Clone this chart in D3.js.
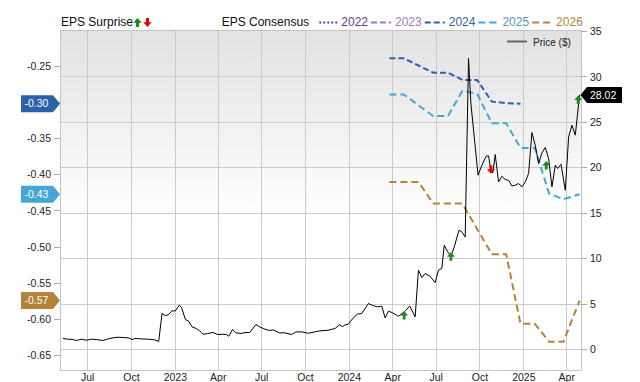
<!DOCTYPE html>
<html><head><meta charset="utf-8">
<script src="https://cdn.jsdelivr.net/npm/d3@7"></script>
<style>
body{margin:0;background:#fff}
svg{display:block;font-family:"Liberation Sans",Arial,Helvetica,sans-serif}
</style>
</head><body>
<svg id="c" width="640" height="382"></svg>
<script>
// ---------------- data ----------------
const xDomain = ["2022-05-05", "2025-05-02"];
const priceDates = ["2022-05-10","2022-05-21","2022-05-31","2022-06-07","2022-06-18","2022-06-28","2022-07-09","2022-07-19","2022-08-02","2022-08-13","2022-08-23","2022-09-03","2022-09-13","2022-09-25","2022-10-02","2022-10-08","2022-10-22","2022-11-05","2022-11-19","2022-11-27","2022-12-04","2022-12-11","2022-12-17","2022-12-25",
"2023-01-01","2023-01-09","2023-01-14","2023-01-22","2023-01-29","2023-02-05","2023-02-14","2023-02-21","2023-02-28","2023-03-10","2023-03-21","2023-03-31","2023-04-11","2023-04-18","2023-04-23","2023-05-01","2023-05-08","2023-05-20","2023-05-27","2023-06-06","2023-06-19","2023-06-27","2023-07-08","2023-07-18","2023-07-25","2023-08-07","2023-08-19","2023-09-02","2023-09-11","2023-09-23","2023-10-07","2023-10-21","2023-10-31","2023-11-17","2023-12-02","2023-12-11","2023-12-18","2023-12-23","2023-12-30",
"2024-01-08","2024-01-18","2024-01-27","2024-02-10","2024-02-19","2024-02-29","2024-03-09","2024-03-16","2024-03-23","2024-04-01","2024-04-13","2024-04-25","2024-05-07","2024-05-18","2024-05-25","2024-06-01","2024-06-08","2024-06-18","2024-06-29","2024-07-06","2024-07-13","2024-07-18","2024-07-24","2024-08-01","2024-08-08","2024-08-18","2024-08-24","2024-08-31","2024-09-07","2024-09-12","2024-09-19","2024-09-27","2024-10-05","2024-10-14","2024-10-19","2024-10-24","2024-10-28","2024-11-02","2024-11-09","2024-11-16","2024-11-23","2024-11-30","2024-12-07","2024-12-14","2024-12-21","2024-12-28",
"2025-01-04","2025-01-11","2025-01-18","2025-01-25","2025-02-01","2025-02-08","2025-02-15","2025-02-22","2025-03-01","2025-03-08","2025-03-13","2025-03-20","2025-03-29","2025-04-05","2025-04-12","2025-04-19","2025-04-28"];
const priceValues = [1.21,1.13,1.10,0.99,1.13,1.02,1.13,1.10,0.99,1.17,1.28,1.35,1.32,1.28,1.10,1.21,1.17,1.13,1.06,0.88,3.96,3.74,3.81,4.25,
4.25,4.88,4.62,3.30,3.11,2.49,2.31,2.05,1.68,1.76,1.87,1.65,1.68,1.65,1.46,2.20,1.83,1.76,1.87,1.87,2.75,2.49,2.23,2.09,2.16,1.83,1.83,1.65,1.94,1.94,1.79,1.94,2.05,2.12,2.31,2.71,2.53,2.71,2.78,
3.41,3.89,3.96,5.06,4.84,4.69,4.77,3.48,4.22,4.03,3.65,4.14,4.77,3.59,8.73,7.92,8.36,8.07,7.37,8.73,8.91,11.48,10.85,10.27,11.29,13.13,12.94,12.39,32.03,27.07,23.40,19.18,20.28,21.27,21.31,19.62,19.44,21.46,18.45,19.07,18.71,18.63,18.00,18.08,18.27,17.90,
18.45,19.37,23.88,22.48,20.47,21.64,22.23,21.02,17.90,20.28,19.92,20.39,17.53,23.40,24.69,23.59,28.02];

const consensusDates = ["2024-03-25","2024-04-24","2024-05-25","2024-06-25","2024-07-26","2024-08-25","2024-09-25","2024-10-26","2024-11-25","2024-12-25","2025-01-24","2025-02-23","2025-03-25","2025-04-28"];
const eps2022 = [];
const eps2023 = [];
const eps2024 = [-0.239,-0.239,-0.249,-0.259,-0.259,-0.269,-0.269,-0.299,-0.301,-0.302];
const eps2025 = [-0.289,-0.289,-0.304,-0.319,-0.319,-0.284,-0.288,-0.329,-0.329,-0.363,-0.363,-0.426,-0.434,-0.427];
const eps2026 = [-0.410,-0.410,-0.410,-0.440,-0.440,-0.440,-0.475,-0.510,-0.510,-0.606,-0.606,-0.631,-0.631,-0.574];

const surpriseDates = ["2024-04-25","2024-08-01","2024-10-24","2025-02-17","2025-04-25"];
const surpriseValues = [3.77,10.24,19.81,20.28,27.5];
const surpriseDirs = ["up","up","down","up","up"];

const consensusYears = ["2022","2023","2024","2025","2026"];
const epsTicks = [-0.65,-0.60,-0.55,-0.50,-0.45,-0.40,-0.35,-0.30,-0.25];
const priceTicks = [0,5,10,15,20,25,30,35];
const lastPriceLabel = "28.02";
const badgeLabels = ["-0.30","-0.43","-0.57"];

// ---------------- styles ----------------
const seriesStyle = {
  "2022": {color:"#62398f", text:"#62398f", dash:"2,2"},
  "2023": {color:"#a07cbb", text:"#a07cbb", dash:"6,3"},
  "2024": {color:"#2a61a9", text:"#2a61a9", dash:"6,3"},
  "2025": {color:"#45a6d6", text:"#5b93c6", dash:"7,4"},
  "2026": {color:"#b3833a", text:"#b3833a", dash:"7,4"}
};
const epsSeries = {"2022":eps2022,"2023":eps2023,"2024":eps2024,"2025":eps2025,"2026":eps2026};

// ---------------- chart ----------------
const P = {l:60.5, r:581.5, t:30.5, b:370.5};
const parse = d3.timeParse("%Y-%m-%d");
const svg = d3.select("#c");
const x = d3.scaleTime().domain(xDomain.map(parse)).range([P.l, P.r]);
const yP = d3.scaleLinear().domain([0,35]).range([349.5,31.5]);
const yE = d3.scaleLinear().domain([-0.65,-0.25]).range([355.5,66.2]);
const crisp = v => Math.round(v - 0.5) + 0.5;

const defs = svg.append("defs");
const g = defs.append("linearGradient").attr("id","bg").attr("x1",0).attr("y1",0).attr("x2",0).attr("y2",1);
g.append("stop").attr("offset","0%").attr("stop-color","#e2e2e2");
g.append("stop").attr("offset","55%").attr("stop-color","#ffffff");
g.append("stop").attr("offset","100%").attr("stop-color","#ffffff");
defs.append("clipPath").attr("id","clip").append("rect")
  .attr("x",P.l).attr("y",P.t).attr("width",P.r-P.l).attr("height",P.b-P.t);

svg.append("rect").attr("x",P.l).attr("y",P.t).attr("width",P.r-P.l).attr("height",P.b-P.t)
  .attr("fill","url(#bg)");

// grid
const xTicks = x.ticks(d3.timeMonth.every(3));
svg.append("g").selectAll("line").data(xTicks).join("line")
  .attr("x1",d=>crisp(x(d))).attr("x2",d=>crisp(x(d))).attr("y1",P.t).attr("y2",P.b)
  .attr("stroke","#cbcbcb").attr("stroke-width",1);
svg.append("g").selectAll("line").data(priceTicks.filter(t=>t<35)).join("line")
  .attr("x1",P.l).attr("x2",P.r).attr("y1",d=>crisp(yP(d))).attr("y2",d=>crisp(yP(d)))
  .attr("stroke","#cbcbcb").attr("stroke-width",1);

svg.append("rect").attr("x",P.l).attr("y",P.t).attr("width",P.r-P.l).attr("height",P.b-P.t)
  .attr("fill","none").attr("stroke","#c4c4c4");

// x axis labels
const fmt = d => d.getMonth()===0 ? d3.timeFormat("%Y")(d) : d3.timeFormat("%b")(d);
svg.append("g").selectAll("text").data(xTicks).join("text")
  .attr("x",d=>x(d)).attr("y",380.5).attr("text-anchor","middle")
  .attr("font-size","10.5px").attr("fill","#222").text(fmt);

// badges positions (last consensus values)
const badgeYears = ["2024","2025","2026"];
const badgeYs = badgeYears.map(yr => { const v = epsSeries[yr]; return yE(v[v.length-1]); });

// left axis (labels hidden where a value badge covers them)
const la = svg.append("g");
la.selectAll("line").data(epsTicks).join("line")
  .attr("x1",54).attr("x2",P.l).attr("y1",d=>crisp(yE(d))).attr("y2",d=>crisp(yE(d)))
  .attr("stroke","#aaa");
la.selectAll("text").data(epsTicks.filter(t => badgeYs.every(by => Math.abs(yE(t)-by) > 9))).join("text")
  .attr("x",51).attr("y",d=>yE(d)).attr("dy","0.35em").attr("text-anchor","end")
  .attr("font-size","10.5px").attr("fill","#222").text(d=>d.toFixed(2));

// right axis
const ra = svg.append("g");
ra.selectAll("line").data(priceTicks).join("line")
  .attr("x1",P.r).attr("x2",587).attr("y1",d=>crisp(yP(d))).attr("y2",d=>crisp(yP(d)))
  .attr("stroke","#aaa");
ra.selectAll("text").data(priceTicks).join("text")
  .attr("x",590).attr("y",d=>yP(d)).attr("dy","0.35em")
  .attr("font-size","10.5px").attr("fill","#222").text(d=>d);

// plot content
const body = svg.append("g").attr("clip-path","url(#clip)");
const cDates = consensusDates.map(parse);
consensusYears.forEach(yr => {
  const vals = epsSeries[yr];
  if (!vals.length) return;
  const pts = vals.map((v,i)=>[cDates[i], v]);
  body.append("path").datum(pts)
    .attr("d", d3.line().x(d=>x(d[0])).y(d=>yE(d[1])))
    .attr("fill","none").attr("stroke",seriesStyle[yr].color).attr("stroke-width",2)
    .attr("stroke-dasharray",seriesStyle[yr].dash);
});

const pPts = priceDates.map((d,i)=>[parse(d), priceValues[i]]);
body.append("path").datum(pPts)
  .attr("d", d3.line().x(d=>x(d[0])).y(d=>yP(d[1])))
  .attr("fill","none").attr("stroke","#000").attr("stroke-width",1);

function arrowPath(cx, cy, dir, s) {
  const hw = 4*s, hh = 4.5*s, sw = 1.4*s, sh = 4*s;
  const tot = hh + sh, top = cy - tot/2;
  if (dir === "up") {
    return `M${cx},${top} L${cx+hw},${top+hh} L${cx+sw},${top+hh} L${cx+sw},${top+tot} L${cx-sw},${top+tot} L${cx-sw},${top+hh} L${cx-hw},${top+hh} Z`;
  }
  const bot = top + tot;
  return `M${cx},${bot} L${cx+hw},${bot-hh} L${cx+sw},${bot-hh} L${cx+sw},${top} L${cx-sw},${top} L${cx-sw},${bot-hh} L${cx-hw},${bot-hh} Z`;
}
svg.append("g").selectAll("path").data(surpriseDates.map((d,i)=>({d:parse(d), v:surpriseValues[i], dir:surpriseDirs[i]})))
  .join("path")
  .attr("d", s => arrowPath(x(s.d), yP(s.v), s.dir, 1))
  .attr("fill", s => s.dir==="up" ? "#1b8a1b" : "#e60000");

// legend top
const lg = svg.append("g").attr("font-size","12px");
lg.append("text").attr("x",61).attr("y",26).attr("fill","#111").text("EPS Surprise");
lg.append("path").attr("d",arrowPath(137.5,22.5,"up",1.05)).attr("fill","#1b8a1b");
lg.append("path").attr("d",arrowPath(147.5,22.5,"down",1.05)).attr("fill","#e60000");
lg.append("text").attr("x",221.7).attr("y",26).attr("fill","#111").text("EPS Consensus");
let lx = 319.3;
consensusYears.forEach(yr => {
  const st = seriesStyle[yr];
  const len = yr==="2022" ? 18 : 20;
  lg.append("line").attr("x1",lx).attr("x2",lx+len).attr("y1",22.5).attr("y2",22.5)
    .attr("stroke",st.color).attr("stroke-width",2).attr("stroke-dasharray",st.dash);
  const t = lg.append("text").attr("x",lx+len+4).attr("y",26).attr("fill",st.text).text(yr);
  lx = lx + len + 4 + t.node().getComputedTextLength() + 3;
});

// price legend
svg.append("line").attr("x1",507).attr("x2",527).attr("y1",41.5).attr("y2",41.5)
  .attr("stroke","#666").attr("stroke-width",2);
svg.append("text").attr("x",533).attr("y",45.5).attr("font-size","10px").attr("fill","#222").text("Price ($)");

// left badges
const lb = svg.append("g");
badgeYears.forEach((yr,i) => {
  const cy = badgeYs[i];
  lb.append("path").attr("d",`M21,${cy-8.5} H53 L60,${cy} L53,${cy+8.5} H21 Z`)
    .attr("fill",seriesStyle[yr].color);
  lb.append("text").attr("x",24.5).attr("y",cy).attr("dy","0.35em")
    .attr("font-size","10.5px").attr("fill","#fff").text(badgeLabels[i]);
});

// right badge
const lastY = yP(priceValues[priceValues.length-1]);
svg.append("path").attr("d",`M580.5,${lastY} L587,${lastY-8} H622 V${lastY+8} H587 Z`).attr("fill","#000");
svg.append("text").attr("x",590).attr("y",lastY).attr("dy","0.35em")
  .attr("font-size","10.5px").attr("fill","#fff").text(lastPriceLabel);
</script>
</body></html>
